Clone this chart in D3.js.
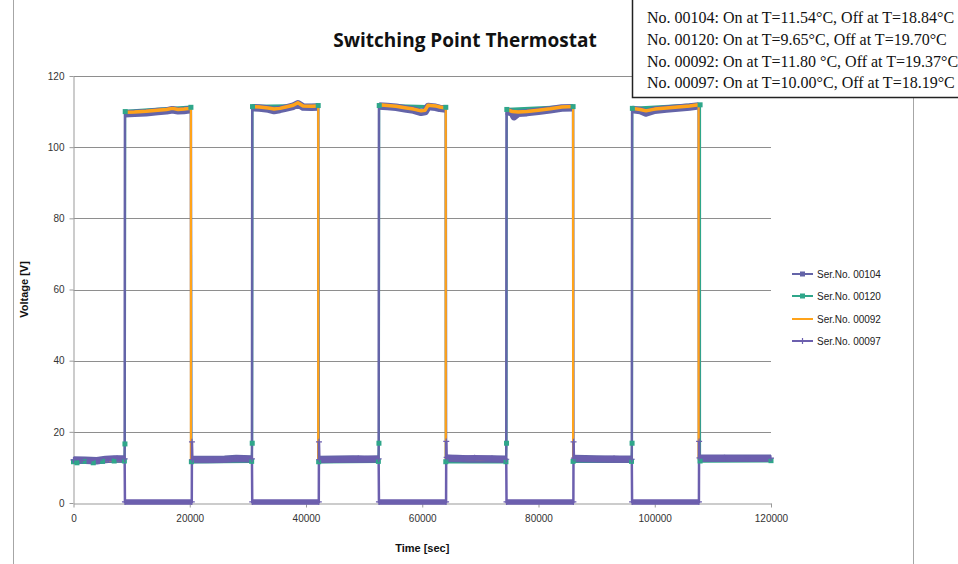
<!DOCTYPE html>
<html><head><meta charset="utf-8">
<script src="https://cdn.jsdelivr.net/npm/d3@7"></script>
<style>body{margin:0;background:#fff} svg{display:block}</style>
</head><body>
<svg id="c" width="958" height="564"></svg>
<script>
const title = "Switching Point Thermostat";
const xLabel = "Time [sec]";
const yLabel = "Voltage [V]";
const xTicks = [0, 20000, 40000, 60000, 80000, 100000, 120000];
const yTicks = [0, 20, 40, 60, 80, 100, 120];
const seriesNames = ["Ser.No. 00104", "Ser.No. 00120", "Ser.No. 00092", "Ser.No. 00097"];
const notes = [
  "No. 00104: On at T=11.54°C, Off at T=18.84°C",
  "No. 00120: On at T=9.65°C, Off at T=19.70°C",
  "No. 00092: On at T=11.80 °C, Off at T=19.37°C",
  "No. 00097: On at T=10.00°C, Off at T=18.19°C"
];

// [time (s), voltage (V)]
const ser00104 = [
  [0,12.1],[2000,12.0],[4000,11.9],[5500,12.2],[7000,12.4],[8800,12.4],
  [8850,109.4],[10500,109.5],[12500,109.7],[14500,110.0],[16000,110.2],[17000,110.5],[18000,110.2],[19000,110.3],[20200,110.6],
  [20250,12.2],[23000,12.2],[26000,12.3],[28000,12.5],[30700,12.4],
  [30750,111.1],[32000,111.0],[33500,110.7],[34500,110.3],[35500,110.6],[36500,111.0],[37800,111.5],[38600,112.2],[39500,111.3],[41000,111.2],[42100,111.3],
  [42150,12.2],[45000,12.3],[48000,12.4],[50000,12.3],[52500,12.4],
  [52550,111.6],[54000,111.4],[55500,111.2],[57000,110.8],[58500,110.4],[59800,109.8],[60500,110.0],[61000,111.4],[62300,111.2],[63000,110.9],[64050,110.7],
  [64100,12.6],[66000,12.5],[68000,12.4],[72000,12.4],[74450,12.3],
  [74500,110.2],[75500,109.6],[75800,108.6],[76500,109.5],[78000,109.7],[80000,110.1],[82000,110.5],[84000,111.0],[85950,111.1],
  [86000,12.5],[90000,12.4],[93000,12.3],[96050,12.3],
  [96100,110.6],[97500,110.3],[98500,109.6],[100000,110.4],[102000,110.7],[104000,111.0],[106000,111.3],[107550,111.6],
  [107600,12.6],[112000,12.6],[116000,12.6],[120000,12.6]
];
const ser00120 = [
  [0,11.6],[600,11.3],[1800,11.7],[3400,11.3],[5000,11.7],[7000,11.8],[8750,11.8],
  [8850,16.6],[8900,110.0],[20200,111.2],
  [20280,11.6],[30650,11.7],[30750,16.8],[30800,111.4],[42100,111.7],
  [42180,11.6],[52450,11.7],[52550,16.8],[52600,111.7],[64050,111.2],
  [64050,11.6],[74400,11.6],[74500,16.8],[74550,110.6],[85950,111.4],
  [85950,11.7],[96000,11.7],[96100,16.8],[96150,110.9],[107800,111.9],
  [107800,11.8],[120000,11.9]
];
const ser00092 = [
  [0,12.0],[4000,12.0],[8800,12.3],[8820,null],
  [8850,109.8],[10500,109.9],[12500,110.1],[14500,110.4],[16000,110.6],[17000,110.9],[18000,110.6],[19000,110.7],[20200,110.9],
  [20200,12.2],[25000,12.3],[30700,12.4],[30720,null],
  [30750,111.4],[32000,111.3],[33500,111.0],[34500,110.7],[35500,110.9],[36500,111.3],[37800,111.8],[38600,112.5],[39500,111.6],[41000,111.5],[42100,111.6],
  [42100,12.2],[47000,12.3],[52500,12.4],[52520,null],
  [52550,111.9],[54000,111.7],[55500,111.5],[57000,111.1],[58500,110.7],[59800,110.2],[60500,110.4],[61000,111.8],[62300,111.6],[63000,111.3],[64050,111.0],
  [64050,12.6],[69000,12.5],[74450,12.3],[74470,null],
  [74500,110.6],[75500,110.0],[76500,109.9],[78000,110.0],[80000,110.4],[82000,110.8],[84000,111.3],[85950,111.4],
  [85950,12.5],[91000,12.4],[96050,12.3],[96070,null],
  [96100,110.9],[97500,110.6],[98500,110.2],[100000,110.7],[102000,111.0],[104000,111.3],[106000,111.6],[107550,111.9],
  [107550,12.6],[114000,12.6],[120000,12.6]
];
const ser00097 = [
  [0,12.1],[1500,12.0],[3000,11.9],[4500,12.1],[6000,12.4],[7500,12.5],[8800,12.4],
  [8850,0.3],[20350,0.3],[20380,17.2],[20450,12.2],[24000,12.2],[27000,12.3],[28500,12.6],[30700,12.4],
  [30750,0.3],[42200,0.3],[42230,17.2],[42300,12.2],[46000,12.3],[49000,12.5],[52500,12.4],
  [52550,0.3],[64100,0.3],[64130,17.3],[64200,12.8],[67000,12.6],[69000,12.7],[72000,12.5],[74450,12.3],
  [74500,0.3],[86000,0.3],[86030,17.2],[86100,12.6],[90000,12.4],[93000,12.5],[96050,12.3],
  [96100,0.3],[107600,0.3],[107630,17.3],[107700,12.7],[112000,12.7],[116000,12.6],[120000,12.6]
];

const seriesData = [ser00104, ser00120, ser00092, ser00097];
const styles = [
  {color:"#6464A8", lw:2.5, band:7.5, marker:"none"},
  {color:"#2FA68A", lw:2,   band:3.5, marker:"square"},
  {color:"#FFA31A", lw:2.2, band:3.5, marker:"none"},
  {color:"#6C5FAE", lw:2.5, band:5.5, marker:"plus"}
];
const legendMarkers = ["square","square","none","plus"];
const drawOrder = [1, 0, 2, 3];

const svg = d3.select("#c");
const W = 958, H = 564;
svg.append("rect").attr("width",W).attr("height",H).attr("fill","#fff");

// outer chart frame sides
svg.append("line").attr("x1",13.5).attr("x2",13.5).attr("y1",0).attr("y2",H).attr("stroke","#a6a6a6").attr("stroke-width",1);
svg.append("line").attr("x1",913.5).attr("x2",913.5).attr("y1",0).attr("y2",H).attr("stroke","#a6a6a6").attr("stroke-width",1);

const x = d3.scaleLinear().domain([0,120000]).range([73.5,771]);
const y = d3.scaleLinear().domain([0,120]).range([503,76]);

// gridlines
svg.append("g").selectAll("line").data(yTicks.filter(d=>d>0)).join("line")
  .attr("x1",x(0)).attr("x2",x(120000))
  .attr("y1",d=>Math.round(y(d))+0.5).attr("y2",d=>Math.round(y(d))+0.5)
  .attr("stroke","#8e8e8e").attr("stroke-width",1);

const fontTick = "'Liberation Sans', Arial, sans-serif";
const yAxis = svg.append("g").attr("transform",`translate(${x(0)},0)`)
  .call(d3.axisLeft(y).tickValues(yTicks).tickSize(4).tickSizeOuter(0).tickPadding(5));
const xAxis = svg.append("g").attr("transform",`translate(0,${Math.round(y(0))+0.5})`)
  .call(d3.axisBottom(x).tickValues(xTicks).tickSize(4).tickSizeOuter(0).tickPadding(7).tickFormat(d3.format("d")));
[yAxis,xAxis].forEach(g=>{
  g.select(".domain").attr("stroke","#999");
  g.selectAll(".tick line").attr("stroke","#999");
  g.selectAll(".tick text").attr("fill","#333").style("font-family",fontTick).style("font-size","10px");
});

// series
const line = d3.line().defined(d=>d[1]!=null).x(d=>x(d[0])).y(d=>y(d[1]));
function flatRuns(pts){
  const runs=[]; let cur=null;
  for(let i=1;i<pts.length;i++){
    const a=pts[i-1], b=pts[i];
    if(a[1]!=null && b[1]!=null && Math.abs(a[1]-b[1])<3 && b[0]>a[0]){
      if(!cur){cur=[a]; runs.push(cur);} cur.push(b);
    } else cur=null;
  }
  return runs;
}
const gS = svg.append("g");
drawOrder.forEach(i=>{
  const s=styles[i], pts=seriesData[i];
  gS.append("path").attr("d",line(pts)).attr("fill","none").attr("stroke",s.color)
    .attr("stroke-width",s.lw).attr("stroke-linejoin","miter");
  flatRuns(pts).forEach(r=>{
    gS.append("path").attr("d",line(r)).attr("fill","none").attr("stroke",s.color)
      .attr("stroke-width",s.band).attr("stroke-linejoin","round");
  });
});
function drawMarker(g, type, cx, cy, color){
  if(type==="square"){
    g.append("rect").attr("x",cx-2.5).attr("y",cy-2.5).attr("width",5).attr("height",5).attr("fill",color);
  } else if(type==="plus"){
    g.append("path").attr("d",`M${cx-3},${cy}H${cx+3}M${cx},${cy-3}V${cy+3}`).attr("stroke",color).attr("stroke-width",1.2);
  }
}
const gM = svg.append("g");
drawOrder.forEach(i=>{
  const s=styles[i];
  if(s.marker==="none") return;
  seriesData[i].filter(d=>d[1]!=null).forEach(d=>drawMarker(gM,s.marker,x(d[0]),y(d[1]),s.color));
});

// title
svg.append("text").attr("x",465).attr("y",47).attr("text-anchor","middle")
  .style("font-family","'Open Sans', Lato, sans-serif").style("font-weight","bold").style("font-size","19px")
  .attr("fill","#111").text(title);

// axis titles
svg.append("text").attr("x",(x(0)+x(120000))/2).attr("y",552).attr("text-anchor","middle")
  .style("font-family",fontTick).style("font-weight","bold").style("font-size","11px").attr("fill","#111").text(xLabel);
svg.append("text").attr("transform",`translate(28,${(y(0)+y(120))/2}) rotate(-90)`).attr("text-anchor","middle")
  .style("font-family",fontTick).style("font-weight","bold").style("font-size","11px").attr("fill","#111").text(yLabel);

// legend
const legY = [274, 296, 319, 341];
const gL = svg.append("g");
seriesNames.forEach((n,i)=>{
  const s=styles[i];
  gL.append("line").attr("x1",792).attr("x2",813).attr("y1",legY[i]).attr("y2",legY[i]).attr("stroke",s.color).attr("stroke-width",2);
  drawMarker(gL, legendMarkers[i], 802.5, legY[i], s.color);
  gL.append("text").attr("x",817).attr("y",legY[i]+3.5).style("font-family",fontTick).style("font-size","10px")
    .attr("fill","#222").text(n);
});

// annotation box
svg.append("rect").attr("x",632.5).attr("y",-2).attr("width",340).attr("height",99.5)
  .attr("fill","#fff").attr("stroke","#222").attr("stroke-width",1.5);
const noteY = [23.3, 45, 66.7, 88.3];
notes.forEach((t,i)=>{
  svg.append("text").attr("x",647).attr("y",noteY[i]).style("font-family","'Liberation Serif', 'Times New Roman', serif")
    .style("font-size","16px").attr("fill","#111").text(t);
});
</script>
</body></html>
